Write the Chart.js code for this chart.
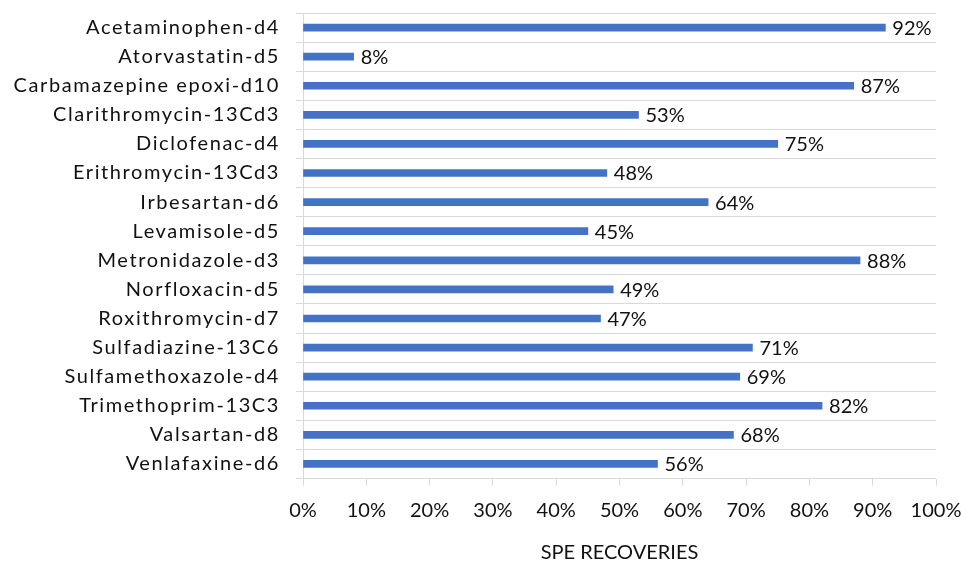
<!DOCTYPE html>
<html>
<head>
<meta charset="utf-8">
<script src="https://cdn.jsdelivr.net/npm/chart.js@4"></script>
<style>
  html, body { margin: 0; padding: 0; background: #fff; }
  #wrap { width: 961px; height: 562px; }
</style>
</head>
<body>
<div id="wrap"><canvas id="c" width="961" height="562"></canvas></div>
<script>
const compounds = [
  'Acetaminophen-d4', 'Atorvastatin-d5', 'Carbamazepine epoxi-d10', 'Clarithromycin-13Cd3',
  'Diclofenac-d4', 'Erithromycin-13Cd3', 'Irbesartan-d6', 'Levamisole-d5',
  'Metronidazole-d3', 'Norfloxacin-d5', 'Roxithromycin-d7', 'Sulfadiazine-13C6',
  'Sulfamethoxazole-d4', 'Trimethoprim-13C3', 'Valsartan-d8', 'Venlafaxine-d6'
];
const recoveries = [92, 8, 87, 53, 75, 48, 64, 45, 88, 49, 47, 71, 69, 82, 68, 56];
const xTicks = [0, 10, 20, 30, 40, 50, 60, 70, 80, 90, 100];
const axisTitle = 'SPE RECOVERIES';

const FONT = 'Lato';
const TEXT = '#111';
const GRID = '#d9d9d9';
const BAR = '#4472c4';

// Drop the automatic half-label padding so the plot box is set by layout.padding alone
function noAutoPadding(scale) {
  scale.paddingTop = 0;
  scale.paddingBottom = 0;
  scale.paddingLeft = 0;
  scale.paddingRight = 0;
}

// Percentage labels just past the end of each bar
const valueLabels = {
  id: 'valueLabels',
  afterDatasetsDraw(chart) {
    const ctx = chart.ctx;
    const meta = chart.getDatasetMeta(0);
    ctx.save();
    ctx.font = '20px ' + FONT;
    ctx.fillStyle = TEXT;
    ctx.textAlign = 'left';
    ctx.textBaseline = 'middle';
    meta.data.forEach((bar, i) => {
      ctx.fillText(recoveries[i] + '%', bar.x + 7, bar.y + 1);
    });
    ctx.restore();
  }
};

// Slightly tracked category labels on the y axis
const spacedLabels = {
  id: 'spacedLabels',
  afterLayout(chart) {
    const y = chart.scales.y;
    if (y && !y._spaced) {
      const orig = y.drawLabels.bind(y);
      y.drawLabels = function (area) {
        const ctx = this.ctx;
        ctx.save();
        ctx.letterSpacing = '1.6px';
        orig(area);
        ctx.restore();
      };
      y._spaced = true;
    }
  }
};

new Chart(document.getElementById('c'), {
  type: 'bar',
  data: {
    labels: compounds,
    datasets: [{
      data: recoveries,
      backgroundColor: BAR,
      borderWidth: 0,
      barThickness: 7
    }]
  },
  options: {
    indexAxis: 'y',
    responsive: false,
    animation: false,
    devicePixelRatio: 1,
    layout: { padding: { top: 13, right: 25, left: 0, bottom: 0 } },
    plugins: {
      legend: { display: false },
      tooltip: { enabled: false }
    },
    scales: {
      x: {
        min: 0,
        max: 100,
        afterBuildTicks(scale) {
          scale.ticks = xTicks.map(v => ({ value: v }));
        },
        afterFit(scale) { scale.height = 83.5; noAutoPadding(scale); },
        ticks: {
          callback: v => v + '%',
          color: TEXT,
          font: { family: FONT, size: 20 },
          padding: 13,
          maxRotation: 0,
          autoSkip: false
        },
        grid: {
          drawOnChartArea: false,
          drawTicks: true,
          tickLength: 7,
          color: GRID,
          lineWidth: 1
        },
        border: { display: false },
        title: {
          display: true,
          text: axisTitle,
          color: TEXT,
          font: { family: FONT, size: 20 },
          padding: { top: 0, bottom: -3 }
        }
      },
      y: {
        afterFit(scale) { scale.width = 303; noAutoPadding(scale); },
        ticks: {
          color: TEXT,
          font: { family: FONT, size: 20 },
          padding: 16,
          autoSkip: false
        },
        grid: {
          offset: true,
          drawOnChartArea: true,
          drawTicks: true,
          tickLength: 7,
          color: GRID,
          lineWidth: 1
        },
        border: { display: true, color: GRID, width: 1 }
      }
    }
  },
  plugins: [valueLabels, spacedLabels]
});
</script>
</body>
</html>
